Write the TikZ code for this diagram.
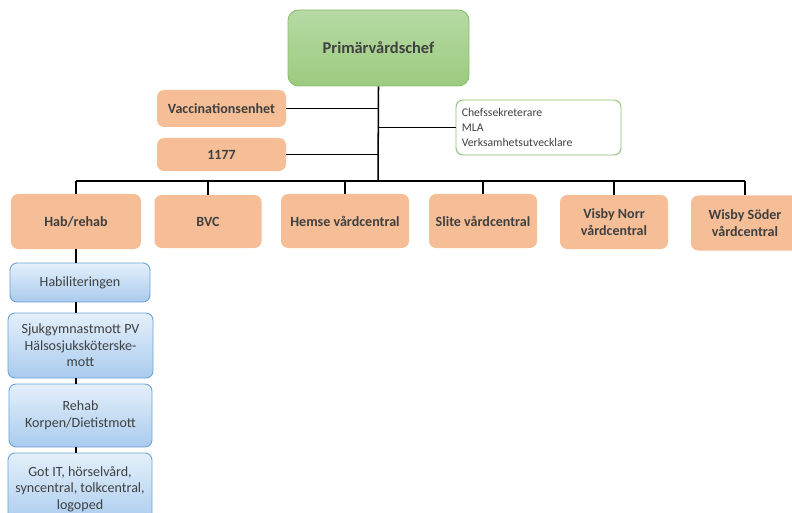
\documentclass[tikz,border=0pt]{standalone}
\usepackage{fontspec}
\setmainfont{Carlito}
\usetikzlibrary{positioning}
\definecolor{ink}{HTML}{404040}
\definecolor{peach}{HTML}{F5BE96}
\definecolor{leaftop}{HTML}{B6DAA4}
\definecolor{leafbot}{HTML}{9BCB7F}
\definecolor{leafline}{HTML}{8CC06E}
\definecolor{skytop}{HTML}{E4F0FB}
\definecolor{skybot}{HTML}{A9CBEE}
\definecolor{skyline}{HTML}{6FA3D8}

\begin{document}
\begin{tikzpicture}[x=0.03cm,y=-0.03cm,font=\fontsize{12}{15}\selectfont\bfseries,
 unit/.style={fill=peach,rounded corners=6pt,text=ink,align=center,inner sep=2pt},
 sub/.style={draw=skyline,thick,top color=skytop,bottom color=skybot,rounded corners=6pt,
  text=ink,align=center,font=\fontsize{12}{14.2}\selectfont,minimum width=4.3cm},
 link/.style={draw=black,line width=1.3pt}]
\clip (0,0) rectangle (792,513);
% top
\node[draw=leafline,thick,top color=leaftop,bottom color=leafbot,rounded corners=9pt,
 text=ink,font=\fontsize{14}{16}\selectfont\bfseries,minimum width=5.43cm,minimum height=2.28cm] (chef) at (378.5,48) {Primärvårdschef};
\node[unit,minimum width=3.87cm,minimum height=1.11cm] (vacc) at (221.5,108.5) {Vaccinationsenhet};
\node[unit,minimum width=3.87cm,minimum height=0.99cm] (n1177) at (221.5,154.5) {1177};
\node[draw=leafline,thick,fill=white,rounded corners=6pt,text=ink,align=left,
 font=\fontsize{10}{12.8}\selectfont,minimum width=4.95cm,minimum height=1.65cm,text width=4.6cm] (stab) at (538.5,127.5)
 {Chefssekreterare\\MLA\\Verksamhetsutvecklare};
\coordinate (bus) at (378,181);
% units
\node[unit,minimum width=3.9cm,minimum height=1.65cm] (hab) at (76,221.5) {Hab/rehab};
\node[unit,minimum width=3.21cm,minimum height=1.59cm] (bvc) at (208,221.5) {BVC};
\node[unit,minimum width=3.84cm,minimum height=1.62cm] (hemse) at (345,221) {Hemse vårdcentral};
\node[unit,minimum width=3.24cm,minimum height=1.62cm] (slite) at (483,221) {Slite vårdcentral};
\node[unit,minimum width=3.24cm,minimum height=1.62cm] (norr) at (614,222) {Visby Norr\\vårdcentral};
\node[unit,minimum width=3.24cm,minimum height=1.65cm] (soder) at (745,223) {Wisby Söder\\vårdcentral};
% hab/rehab column
\node[sub,minimum width=4.2cm,minimum height=1.17cm] (habil) at (80,282.5) {Habiliteringen};
\node[sub,minimum width=4.35cm,minimum height=1.95cm] (sjuk) at (80.5,345.5) {Sjukgymnastmott PV\\Hälsosjuksköterske-\\mott};
\node[sub,minimum width=4.29cm,minimum height=1.89cm] (rehab) at (80.5,415.5) {Rehab\\Korpen/Dietistmott};
\node[sub,minimum width=4.32cm,minimum height=2.16cm] (gotit) at (80,489) {Got IT, hörselvård,\\syncentral, tolkcentral,\\logoped};
% lines
\draw[link] (chef.south) -- (bus);
\draw[link] (vacc.east) -- (vacc.east -| bus);
\draw[link] (n1177.east) -- (n1177.east -| bus);
\draw[link] (stab.west) -- (stab.west -| bus);
\draw[link] (hab.north |- bus) -- (soder.north |- bus);
\foreach \u in {hab,bvc,hemse,slite,norr,soder}
 \draw[link] (\u.north |- bus) -- (\u.north);
\draw[link] (hab.south) -- (hab.south |- habil.north);
\draw[link] (hab.south |- habil.south) -- (hab.south |- sjuk.north);
\draw[link] (hab.south |- sjuk.south) -- (hab.south |- rehab.north);
\draw[link] (hab.south |- rehab.south) -- (hab.south |- gotit.north);
\end{tikzpicture}
\end{document}
